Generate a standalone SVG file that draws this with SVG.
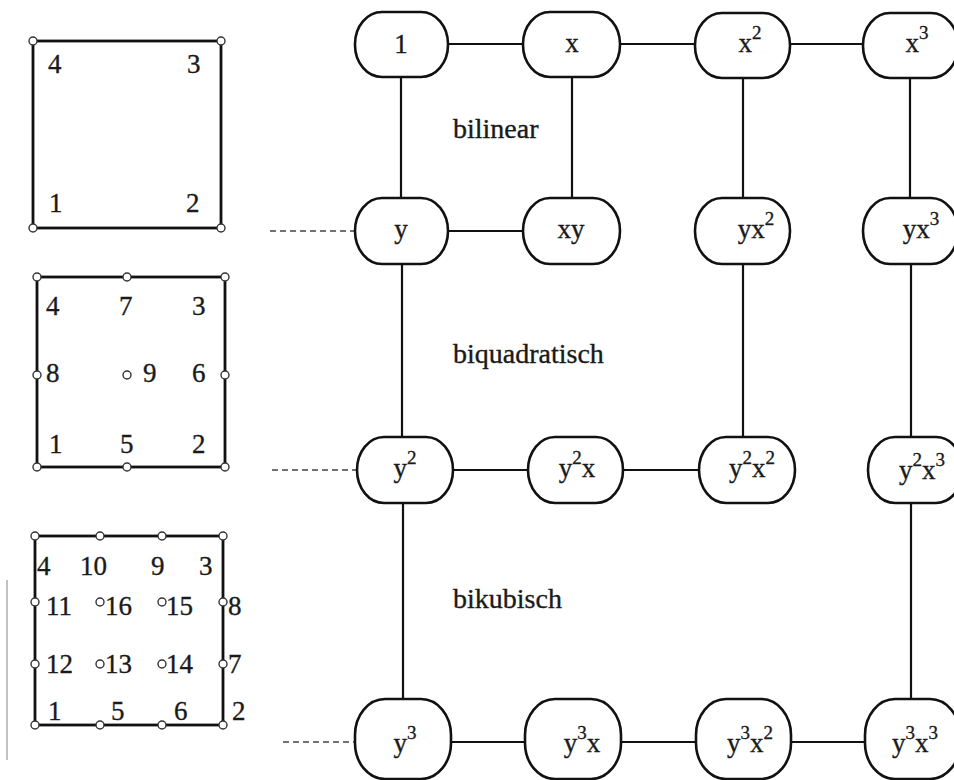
<svg xmlns="http://www.w3.org/2000/svg" width="954" height="780" viewBox="0 0 954 780" font-family="'Liberation Serif', 'Times New Roman', serif">
  <style>
    text { font-family: "Liberation Serif", "Times New Roman", serif; fill: #1a1a1a; stroke: #1a1a1a; stroke-width: 0.35; }
    .lbl { font-size: 27px; text-anchor: middle; }
    .num { font-size: 27px; }
    .cap { font-size: 28px; }
    .node rect { fill: #fff; stroke: #111; stroke-width: 2.6; }
    .edge { stroke: #111; stroke-width: 2.2; fill: none; }
    .dash { stroke: #444; stroke-width: 1.5; stroke-dasharray: 6 4; fill: none; }
    .elem { fill: none; stroke: #111; stroke-width: 2.8; }
    .pt { fill: #fff; stroke: #333; stroke-width: 1.4; }
  </style>

  <!-- element sketches -->
  <g id="elem-linear">
    <rect class="elem" x="33" y="41" width="188" height="187"/>
    <circle class="pt" cx="33" cy="41" r="4"/>
    <circle class="pt" cx="221" cy="41" r="4"/>
    <circle class="pt" cx="33" cy="228" r="4"/>
    <circle class="pt" cx="221" cy="228" r="4"/>
    <text class="num" x="48" y="73">4</text>
    <text class="num" x="187" y="73">3</text>
    <text class="num" x="49" y="212">1</text>
    <text class="num" x="186" y="212">2</text>
  </g>

  <g id="elem-quadratic">
    <rect class="elem" x="37" y="277" width="188" height="190"/>
    <circle class="pt" cx="37" cy="277" r="4"/>
    <circle class="pt" cx="127" cy="277" r="4"/>
    <circle class="pt" cx="225" cy="277" r="4"/>
    <circle class="pt" cx="37" cy="375" r="4"/>
    <circle class="pt" cx="127" cy="375" r="4"/>
    <circle class="pt" cx="225" cy="375" r="4"/>
    <circle class="pt" cx="37" cy="467" r="4"/>
    <circle class="pt" cx="127" cy="467" r="4"/>
    <circle class="pt" cx="225" cy="467" r="4"/>
    <text class="num" x="46" y="315">4</text>
    <text class="num" x="119" y="315">7</text>
    <text class="num" x="192" y="315">3</text>
    <text class="num" x="46" y="382">8</text>
    <text class="num" x="143" y="382">9</text>
    <text class="num" x="192" y="382">6</text>
    <text class="num" x="49" y="453">1</text>
    <text class="num" x="120" y="453">5</text>
    <text class="num" x="192" y="453">2</text>
  </g>

  <g id="elem-cubic">
    <rect class="elem" x="35" y="536" width="188" height="189"/>
    <circle class="pt" cx="35" cy="536" r="4"/>
    <circle class="pt" cx="100" cy="536" r="4"/>
    <circle class="pt" cx="162" cy="536" r="4"/>
    <circle class="pt" cx="223" cy="536" r="4"/>
    <circle class="pt" cx="35" cy="602" r="4"/>
    <circle class="pt" cx="100" cy="602" r="4"/>
    <circle class="pt" cx="162" cy="602" r="4"/>
    <circle class="pt" cx="223" cy="602" r="4"/>
    <circle class="pt" cx="35" cy="664" r="4"/>
    <circle class="pt" cx="100" cy="664" r="4"/>
    <circle class="pt" cx="162" cy="664" r="4"/>
    <circle class="pt" cx="223" cy="664" r="4"/>
    <circle class="pt" cx="35" cy="725" r="4"/>
    <circle class="pt" cx="100" cy="725" r="4"/>
    <circle class="pt" cx="162" cy="725" r="4"/>
    <circle class="pt" cx="223" cy="725" r="4"/>
    <text class="num" x="37" y="575">4</text>
    <text class="num" x="80" y="575">10</text>
    <text class="num" x="151" y="575">9</text>
    <text class="num" x="199" y="575">3</text>
    <text class="num" x="46" y="615">11</text>
    <text class="num" x="105" y="615">16</text>
    <text class="num" x="166" y="615">15</text>
    <text class="num" x="228" y="615">8</text>
    <text class="num" x="46" y="673">12</text>
    <text class="num" x="105" y="673">13</text>
    <text class="num" x="166" y="673">14</text>
    <text class="num" x="228" y="673">7</text>
    <text class="num" x="48" y="720">1</text>
    <text class="num" x="111" y="720">5</text>
    <text class="num" x="174" y="720">6</text>
    <text class="num" x="232" y="720">2</text>
  </g>

  <!-- page margin rule -->
  <line x1="7" y1="580" x2="7" y2="760" stroke="#999" stroke-width="1.2"/>

  <!-- connectors -->
  <g id="connectors">
    <!-- horizontal -->
    <line class="edge" x1="448" y1="44" x2="523" y2="44"/>
    <line class="edge" x1="620" y1="44" x2="695" y2="44"/>
    <line class="edge" x1="790" y1="44" x2="863" y2="44"/>
    <line class="edge" x1="448" y1="231" x2="523" y2="231"/>
    <line class="edge" x1="453" y1="470" x2="528" y2="470"/>
    <line class="edge" x1="623" y1="470" x2="699" y2="470"/>
    <line class="edge" x1="451" y1="742" x2="525" y2="742"/>
    <line class="edge" x1="621" y1="742" x2="696" y2="742"/>
    <line class="edge" x1="791" y1="742" x2="865" y2="742"/>
    <!-- vertical -->
    <line class="edge" x1="401" y1="77" x2="401" y2="198"/>
    <line class="edge" x1="572" y1="77" x2="572" y2="198"/>
    <line class="edge" x1="743" y1="77" x2="743" y2="198"/>
    <line class="edge" x1="910" y1="77" x2="910" y2="198"/>
    <line class="edge" x1="402" y1="264" x2="402" y2="437"/>
    <line class="edge" x1="743" y1="264" x2="743" y2="437"/>
    <line class="edge" x1="911" y1="264" x2="911" y2="437"/>
    <line class="edge" x1="403" y1="503" x2="403" y2="699"/>
    <line class="edge" x1="911" y1="503" x2="911" y2="699"/>
    <!-- dashed leaders from the element sketches -->
    <line class="dash" x1="270" y1="231" x2="355" y2="231"/>
    <line class="dash" x1="272" y1="470" x2="357" y2="470"/>
    <line class="dash" x1="283" y1="742" x2="355" y2="742"/>
  </g>

  <!-- row 1 -->
  <g id="n-1" class="node"><rect x="355" y="12" width="93" height="65" rx="27" ry="32"/><text class="lbl" x="401" y="53">1</text></g>
  <g id="n-x" class="node"><rect x="523" y="12" width="97" height="65" rx="27" ry="32"/><text class="lbl" x="572" y="52">x</text></g>
  <g id="n-x2" class="node"><rect x="695" y="13" width="95" height="65" rx="27" ry="32"/><text class="lbl" x="750" y="52">x<tspan dy="-13" font-size="19">2</tspan></text></g>
  <g id="n-x3" class="node"><rect x="863" y="13" width="95" height="65" rx="27" ry="32"/><text class="lbl" x="917" y="52">x<tspan dy="-13" font-size="19">3</tspan></text></g>

  <!-- row 2 -->
  <g id="n-y" class="node"><rect x="355" y="198" width="93" height="66" rx="27" ry="33"/><text class="lbl" x="401" y="238">y</text></g>
  <g id="n-xy" class="node"><rect x="523" y="198" width="97" height="66" rx="27" ry="33"/><text class="lbl" x="571" y="238">xy</text></g>
  <g id="n-yx2" class="node"><rect x="695" y="198" width="95" height="66" rx="27" ry="33"/><text class="lbl" x="756" y="238">yx<tspan dy="-13" font-size="19">2</tspan></text></g>
  <g id="n-yx3" class="node"><rect x="863" y="198" width="95" height="66" rx="27" ry="33"/><text class="lbl" x="921" y="238">yx<tspan dy="-13" font-size="19">3</tspan></text></g>

  <!-- row 3 -->
  <g id="n-y2" class="node"><rect x="357" y="437" width="96" height="66" rx="27" ry="33"/><text class="lbl" x="405" y="477">y<tspan dy="-13" font-size="19">2</tspan></text></g>
  <g id="n-y2x" class="node"><rect x="528" y="437" width="95" height="66" rx="27" ry="33"/><text class="lbl" x="577" y="477">y<tspan dy="-13" font-size="19">2</tspan><tspan dy="13">x</tspan></text></g>
  <g id="n-y2x2" class="node"><rect x="699" y="437" width="96" height="66" rx="27" ry="33"/><text class="lbl" x="752" y="477">y<tspan dy="-13" font-size="19">2</tspan><tspan dy="13">x</tspan><tspan dy="-13" font-size="19">2</tspan></text></g>
  <g id="n-y2x3" class="node"><rect x="868" y="437" width="95" height="66" rx="27" ry="33"/><text class="lbl" x="922" y="479">y<tspan dy="-13" font-size="19">2</tspan><tspan dy="13">x</tspan><tspan dy="-13" font-size="19">3</tspan></text></g>

  <!-- row 4 -->
  <g id="n-y3" class="node"><rect x="355" y="699" width="96" height="80" rx="30" ry="36"/><text class="lbl" x="405" y="752">y<tspan dy="-13" font-size="19">3</tspan></text></g>
  <g id="n-y3x" class="node"><rect x="525" y="699" width="96" height="80" rx="30" ry="36"/><text class="lbl" x="582" y="752">y<tspan dy="-13" font-size="19">3</tspan><tspan dy="13">x</tspan></text></g>
  <g id="n-y3x2" class="node"><rect x="696" y="699" width="95" height="80" rx="30" ry="36"/><text class="lbl" x="750" y="752">y<tspan dy="-13" font-size="19">3</tspan><tspan dy="13">x</tspan><tspan dy="-13" font-size="19">2</tspan></text></g>
  <g id="n-y3x3" class="node"><rect x="865" y="699" width="95" height="80" rx="30" ry="36"/><text class="lbl" x="915" y="752">y<tspan dy="-13" font-size="19">3</tspan><tspan dy="13">x</tspan><tspan dy="-13" font-size="19">3</tspan></text></g>

  <!-- region captions -->
  <text class="cap" x="453" y="138">bilinear</text>
  <text class="cap" x="453" y="363">biquadratisch</text>
  <text class="cap" x="453" y="608">bikubisch</text>
</svg>
